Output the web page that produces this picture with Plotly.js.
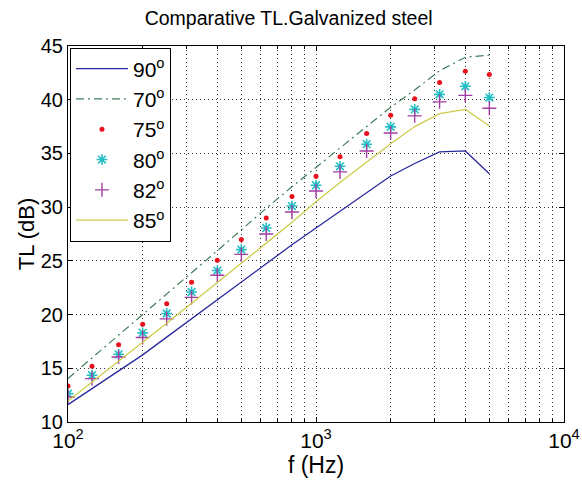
<!DOCTYPE html>
<html>
<head>
<meta charset="utf-8">
<script src="https://cdn.plot.ly/plotly-3.0.1.min.js"></script>
<style>html,body{margin:0;padding:0;background:#fff;}#chart{width:582px;height:487px;}</style>
</head>
<body>
<div id="chart"></div>
<script>
// Frequencies (Hz), 1/3-octave bands
const freq = [100,125,160,200,250,315,400,500,630,800,1000,1250,1600,2000,2500,3150,4000,5000];
// Transmission loss (dB) per incidence angle
const tl90 = [11.62,13.1,14.7,16.25,17.9,19.6,21.35,23.0,24.75,26.5,28.06,29.6,31.3,32.9,34.06,35.14,35.23,33.1];
const tl70 = [14.05,15.95,18.05,20.0,21.9,23.9,25.95,27.9,29.9,31.9,33.7,35.5,37.55,39.3,40.9,42.7,43.95,44.15];
const tl75 = [13.35,15.19,17.2,19.1,21.0,23.0,25.06,26.98,29.0,31.0,32.88,34.7,36.85,38.56,40.1,41.6,42.65,42.35];
const tl80 = [12.64,14.35,16.3,18.3,20.1,22.1,24.1,26.05,28.06,30.1,32.04,33.8,35.86,37.47,39.1,40.5,41.25,40.2];
const tl82 = [12.33,14.04,16.05,17.86,19.6,21.6,23.66,25.6,27.5,29.55,31.5,33.28,35.23,36.9,38.5,39.8,40.4,39.2];
const tl85 = [11.95,13.7,15.65,17.45,19.2,21.05,22.95,24.75,26.65,28.6,30.5,32.3,34.2,35.9,37.5,38.7,39.1,37.55];
const seriesNames = ['90<sup>o</sup>','70<sup>o</sup>','75<sup>o</sup>','80<sup>o</sup>','82<sup>o</sup>','85<sup>o</sup>'];
// Axis ticks
const xMajorVals = [100,1000,10000];
const xMajorText = ['10<sup>2</sup>','10<sup>3</sup>','10<sup>4</sup>'];
const xMinorVals = [200,300,400,500,600,700,800,900,2000,3000,4000,5000,6000,7000,8000,9000];
const yTickVals = [10,15,20,25,30,35,40,45];

const FONT = 'Liberation Sans, Arial, Helvetica, sans-serif';

const traces = [
  {x:freq, y:tl90, name:seriesNames[0], mode:'lines', line:{color:'#2a2a9e', width:1.3}},
  {x:freq, y:tl70, name:seriesNames[1], mode:'lines', line:{color:'#3f7f5a', width:1.2, dash:'8px,4px,2px,4px'}},
  {x:freq, y:tl75, name:seriesNames[2], mode:'markers', marker:{color:'#e8101c', symbol:'circle', size:5}},
  {x:freq, y:tl80, name:seriesNames[3], mode:'markers', marker:{color:'#22bfc4', symbol:'asterisk-open', size:9, line:{color:'#22bfc4', width:1.6}}},
  {x:freq, y:tl82, name:seriesNames[4], mode:'markers', marker:{color:'#a43ea4', symbol:'cross-thin-open', size:10, line:{color:'#a43ea4', width:1.4}}},
  {x:freq, y:tl85, name:seriesNames[5], mode:'lines', line:{color:'#cccc4a', width:1.3}}
];

const layout = {
  width:582, height:487,
  margin:{l:68, r:18, t:46, b:65},
  paper_bgcolor:'#fff', plot_bgcolor:'#fff',
  font:{family:FONT, color:'#000'},
  showlegend:true,
  title:{text:'Comparative TL.Galvanized steel', font:{family:FONT, size:19.5, color:'#000'}, x:0.496, xanchor:'center', y:0.963, yanchor:'middle'},
  xaxis:{
    type:'log', range:[2,4],
    tickvals:xMajorVals, ticktext:xMajorText,
    tickfont:{size:21, family:FONT},
    ticks:'inside', ticklen:5, tickcolor:'#000',
    showline:true, linecolor:'#000', linewidth:1, mirror:'ticks',
    showgrid:true, gridcolor:'#333', griddash:'1px,3px', gridwidth:1,
    minor:{tickvals:xMinorVals, ticks:'inside', ticklen:3, tickcolor:'#000', showgrid:true, gridcolor:'#333', griddash:'1px,3px', gridwidth:1},
    zeroline:false,
    title:{text:'f (Hz)', font:{size:23, family:FONT}, standoff:4}
  },
  yaxis:{
    range:[10,45], tickvals:yTickVals,
    tickfont:{size:20, family:FONT},
    ticks:'inside', ticklen:5, tickcolor:'#000',
    showline:true, linecolor:'#000', linewidth:1, mirror:'ticks',
    showgrid:true, gridcolor:'#333', griddash:'1px,3px', gridwidth:1,
    zeroline:false,
    title:{text:'TL (dB)', font:{size:22, family:FONT}, standoff:0}
  },
  legend:{
    x:0.004, y:0.996, xanchor:'left', yanchor:'top',
    bgcolor:'#fff', bordercolor:'#000', borderwidth:1,
    font:{size:21, family:FONT, color:'#000'},
    itemwidth:52, tracegroupgap:0
  }
};

Plotly.newPlot('chart', traces, layout, {displayModeBar:false, staticPlot:true});
</script>
</body>
</html>
